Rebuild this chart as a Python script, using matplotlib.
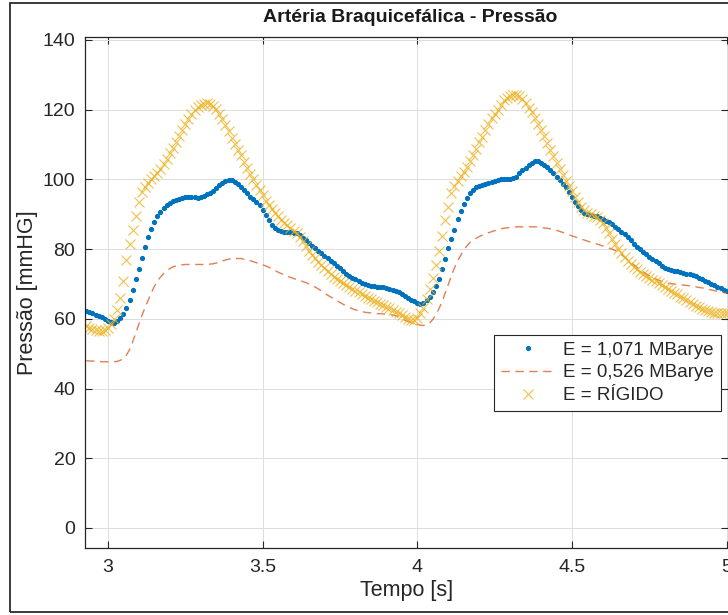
import numpy as np
import matplotlib
matplotlib.use("Agg")
import matplotlib.pyplot as plt
from matplotlib.patches import Rectangle

plt.rcParams['font.family'] = ['Liberation Sans', 'DejaVu Sans']

# time axis [s], one sample every 0.01 s from 2.93 to 5.00
tempo = np.round(np.arange(293, 501) / 100.0, 2)

# E = 1,071 MBarye
p_elastico = [
    62.2, 61.9, 61.6, 61.2, 60.8, 60.4, 59.9,
    59.4, 59.0, 58.8, 59.4, 60.2, 61.4, 63.0, 65.3, 68.2, 71.3,
    74.3, 77.6, 80.7, 83.4, 85.8, 87.7, 89.4, 90.6, 91.8, 92.6,
    93.1, 93.7, 94.2, 94.5, 94.8, 95.0, 95.0, 95.0, 94.9, 94.8,
    94.9, 95.2, 95.7, 96.2, 96.8, 97.5, 98.3, 99.0, 99.6, 99.9,
    99.9, 99.4, 98.6, 97.8, 96.9, 96.0, 95.1, 94.3, 93.5, 92.6,
    91.3, 89.9, 88.3, 86.9, 86.0, 85.5, 85.2, 85.0, 84.9, 84.8,
    84.7, 84.5, 84.0, 83.2, 82.5, 81.7, 80.9, 80.2, 79.5, 78.8,
    78.1, 77.5, 76.7, 76.0, 75.3, 74.5, 73.8, 73.0, 72.3, 71.8,
    71.3, 70.9, 70.4, 70.0, 69.7, 69.4, 69.3, 69.1, 69.1, 69.0,
    68.9, 68.7, 68.4, 68.0, 67.6, 67.1, 66.6, 66.0, 65.5, 65.0,
    64.6, 64.3, 64.6, 65.4, 66.4, 67.8, 69.5, 71.5, 74.4, 77.1,
    80.3, 83.0, 85.6, 88.7, 91.0, 93.0, 94.8, 96.1, 97.1, 97.7,
    98.1, 98.4, 98.7, 99.0, 99.3, 99.6, 99.9, 100.1, 100.1, 100.0,
    100.1, 100.3, 100.8, 101.7, 102.7, 103.4, 104.1, 104.7, 105.2, 105.2,
    104.8, 104.1, 103.5, 102.6, 101.8, 100.8, 99.7, 98.6, 97.8, 96.4,
    95.0, 93.6, 92.3, 91.3, 90.4, 90.0, 89.8, 89.6, 89.4, 89.0,
    88.6, 88.2, 87.7, 87.1, 86.4, 85.7, 85.0, 84.2, 83.4, 82.5,
    81.6, 80.7, 79.9, 79.2, 78.5, 77.8, 77.2, 76.5, 75.9, 75.2,
    74.6, 74.2, 74.0, 73.8, 73.6, 73.4, 73.2, 73.0, 72.8, 72.5,
    72.2, 71.8, 71.4, 71.0, 70.6, 70.1, 69.7, 69.2, 68.8, 68.4,
    68.0,
]

# E = 0,526 MBarye
p_flexivel = [
    48.0, 47.9, 47.9, 47.8, 47.8, 47.7, 47.7,
    47.7, 47.7, 47.7, 47.8, 48.1, 48.6, 49.6, 51.2, 53.4, 55.9,
    58.5, 61.0, 63.2, 65.3, 67.4, 69.3, 70.8, 72.0, 73.0, 73.8,
    74.4, 74.9, 75.2, 75.4, 75.5, 75.6, 75.6, 75.6, 75.6, 75.6,
    75.6, 75.6, 75.6, 75.7, 75.8, 76.0, 76.3, 76.6, 76.9, 77.1,
    77.3, 77.3, 77.3, 77.3, 77.1, 76.9, 76.7, 76.4, 76.1, 75.8,
    75.5, 75.2, 74.8, 74.4, 73.9, 73.4, 73.0, 72.6, 72.2, 71.9,
    71.6, 71.3, 71.0, 70.7, 70.4, 70.0, 69.6, 69.1, 68.6, 68.0,
    67.4, 66.8, 66.3, 65.8, 65.2, 64.7, 64.2, 63.7, 63.3, 62.9,
    62.6, 62.3, 62.1, 61.9, 61.8, 61.7, 61.6, 61.5, 61.5, 61.4,
    61.3, 61.2, 61.1, 60.9, 60.5, 60.1, 59.6, 59.2, 58.9, 58.6,
    58.4, 58.2, 58.1, 58.3, 58.8, 59.8, 61.2, 62.9, 64.9, 67.4,
    69.8, 72.3, 74.6, 76.5, 78.2, 79.6, 80.9, 81.9, 82.6, 83.1,
    83.6, 84.0, 84.4, 84.7, 85.0, 85.3, 85.6, 85.8, 86.0, 86.1,
    86.2, 86.3, 86.4, 86.4, 86.4, 86.4, 86.4, 86.4, 86.4, 86.3,
    86.2, 86.1, 86.0, 85.8, 85.6, 85.4, 85.1, 84.8, 84.5, 84.1,
    83.8, 83.5, 83.2, 82.9, 82.6, 82.3, 82.0, 81.8, 81.5, 81.2,
    80.9, 80.6, 80.3, 80.0, 79.6, 79.1, 78.4, 77.7, 77.0, 76.3,
    75.5, 74.8, 74.1, 73.5, 72.9, 72.4, 71.9, 71.5, 71.1, 70.7,
    70.4, 70.2, 70.1, 70.0, 69.9, 69.8, 69.7, 69.6, 69.5, 69.3,
    69.2, 69.0, 68.9, 68.7, 68.5, 68.3, 68.1, 67.9, 67.8, 67.6,
    67.4,
]

# E = RIGIDO
p_rigido = [
    58.0, 57.5, 57.0, 56.7, 56.5, 56.5, 56.7,
    57.3, 58.4, 60.0, 62.4, 65.9, 71.0, 76.9, 81.5, 85.4, 89.5,
    93.5, 96.4, 97.9, 99.1, 100.0, 101.0, 101.9, 103.0, 104.3, 105.9,
    107.5, 109.0, 110.6, 112.4, 114.1, 115.8, 117.3, 118.8, 120.0, 120.8,
    121.4, 121.7, 121.8, 121.6, 121.0, 120.1, 118.8, 117.2, 115.6, 113.8,
    111.9, 110.2, 108.5, 106.9, 105.0, 103.2, 101.6, 100.0, 98.5, 97.0,
    95.4, 93.8, 92.6, 91.5, 90.4, 89.4, 88.5, 87.6, 86.8, 86.1,
    85.3, 84.5, 83.4, 82.3, 81.0, 79.5, 78.4, 77.4, 76.4, 75.5,
    74.6, 73.7, 72.9, 72.1, 71.5, 70.8, 70.2, 69.6, 69.0, 68.5,
    68.1, 67.6, 67.1, 66.6, 66.1, 65.6, 65.2, 64.7, 64.3, 63.9,
    63.5, 63.1, 62.6, 62.1, 61.6, 61.0, 60.5, 60.1, 59.8, 59.8,
    60.3, 61.6, 63.0, 65.6, 68.5, 71.8, 75.5, 79.5, 83.9, 88.3,
    92.2, 96.0, 98.1, 99.6, 100.9, 102.2, 103.7, 105.2, 107.0, 108.8,
    110.6, 112.3, 114.1, 115.9, 117.5, 118.8, 120.0, 121.4, 122.7, 123.5,
    124.0, 124.2, 124.1, 123.8, 123.1, 121.9, 120.6, 119.2, 117.7, 116.0,
    114.3, 112.5, 110.5, 108.5, 106.6, 104.8, 103.0, 101.2, 99.5, 98.1,
    96.6, 94.9, 93.5, 92.2, 91.2, 90.5, 90.0, 89.6, 89.1, 88.3,
    87.4, 86.1, 84.5, 82.9, 81.4, 80.1, 78.8, 77.8, 76.6, 75.8,
    75.0, 74.2, 73.5, 72.8, 72.2, 71.7, 71.2, 70.8, 70.3, 69.8,
    69.2, 68.7, 68.1, 67.5, 67.0, 66.4, 65.9, 65.3, 64.8, 64.3,
    63.8, 63.3, 62.9, 62.6, 62.3, 62.0, 61.8, 61.7, 61.6, 61.7,
    61.8,
]

x_ticks = [3, 3.5, 4, 4.5, 5]
x_tick_labels = ['3', '3.5', '4', '4.5', '5']
y_ticks = [0, 20, 40, 60, 80, 100, 120, 140]

W, H = 728, 615
fig = plt.figure(figsize=(W / 100, H / 100), dpi=100)

# figure border (matlab export frame)
fig.patches.append(Rectangle((10 / W, 3 / H), 1.2, 609 / H, transform=fig.transFigure,
                             fill=False, edgecolor='#1a1a1a', linewidth=1.2))

ax = fig.add_axes([85 / W, 67 / H, 643 / W, 511 / H])
ax.plot(tempo, p_elastico, linestyle='none', marker='.', markersize=5.5,
        color='#0072BD', label='E = 1,071 MBarye')
ax.plot(tempo, p_flexivel, linestyle='--', dashes=(6, 4), linewidth=1.0,
        color='#D95319', alpha=0.75, label='E = 0,526 MBarye')
ax.plot(tempo, p_rigido, linestyle='none', marker='x', markersize=6.5,
        markeredgewidth=0.8, color='#EDB120', alpha=0.8, label='E = RÍGIDO')

ax.set_xlim(2.926, 2.926 + 643 / 309.4)
ax.set_ylim(-5.74, 140.86)
ax.set_xticks(x_ticks)
ax.set_xticklabels(x_tick_labels)
ax.set_yticks(y_ticks)
ax.tick_params(direction='in', length=5, width=0.8, color='#262626',
               labelsize=14, labelcolor='#262626', top=True, right=True, pad=8)
ax.tick_params(axis='y', pad=7)
ax.grid(True, color='#dcdcdc', linewidth=0.7)
ax.set_axisbelow(True)
for side in ['left', 'bottom', 'top']:
    ax.spines[side].set_color('#262626')
    ax.spines[side].set_linewidth(0.9)
ax.spines['right'].set_visible(False)

ax.set_xlabel('Tempo [s]', fontsize=15.5, color='#262626', labelpad=3)
ax.set_ylabel('Pressão [mmHG]', fontsize=15.5, color='#262626', labelpad=3)
fig.text(410 / W, 1 - 18 / H, 'Artéria Braquicefálica - Pressão', fontsize=14,
         fontweight='bold', ha='center', va='center', color='#1a1a1a')

leg = ax.legend(loc='upper left', bbox_to_anchor=(494 / W, 1 - 335 / H),
                bbox_transform=fig.transFigure, fontsize=13.5, frameon=True,
                fancybox=False, framealpha=1, edgecolor='#262626',
                handlelength=2.9, handletextpad=0.45, borderpad=0.35,
                labelspacing=0.3, borderaxespad=0)
leg.get_frame().set_linewidth(0.8)
for t in leg.get_texts():
    t.set_color('#262626')

fig.savefig('out.png', dpi=100)
